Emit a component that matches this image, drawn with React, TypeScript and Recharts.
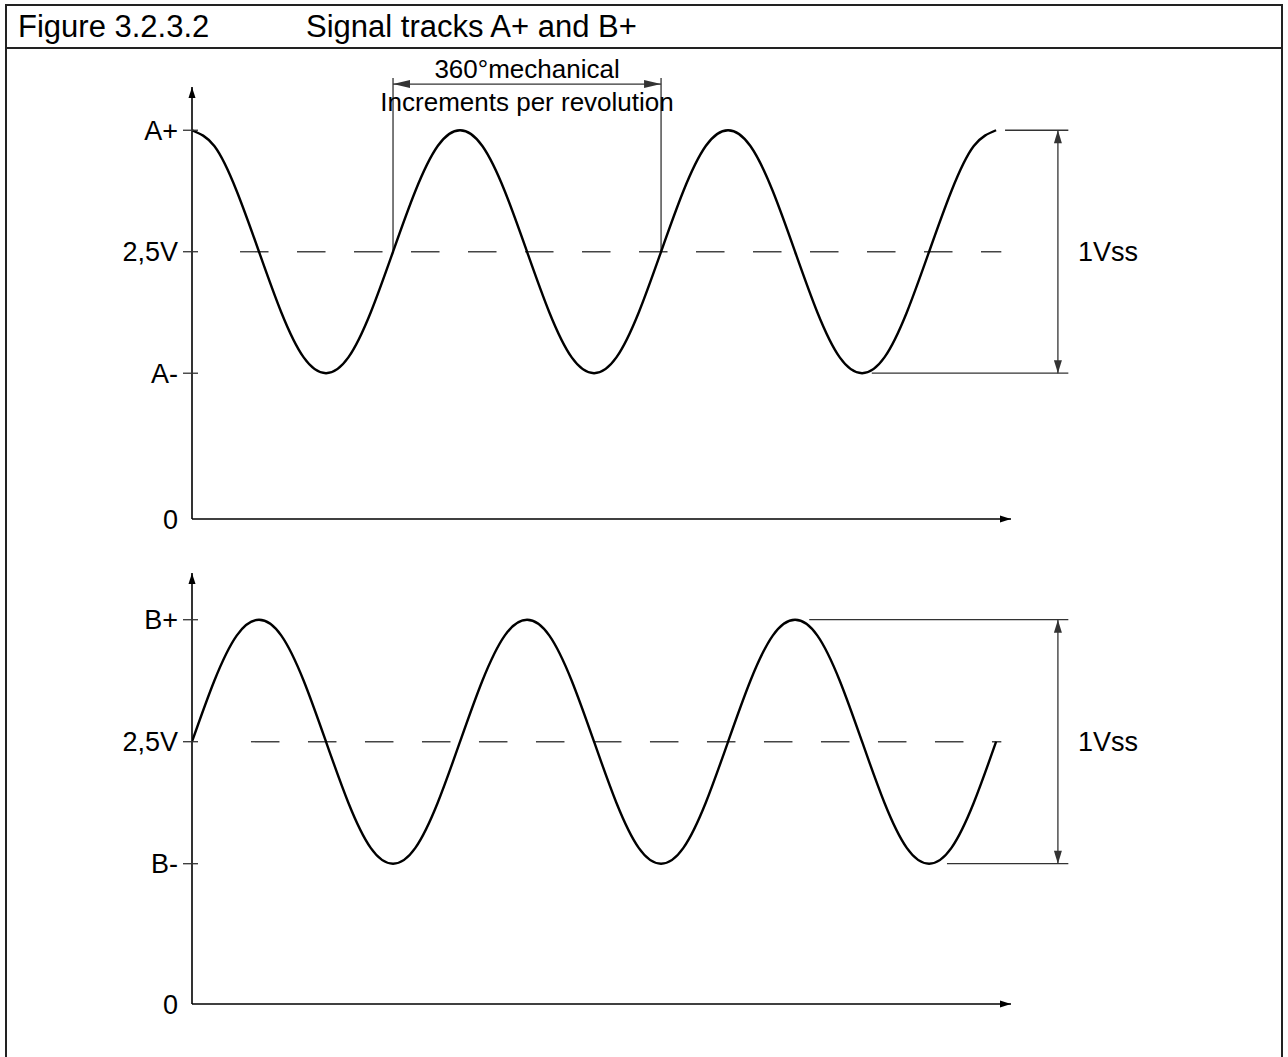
import React from "react";
import { LineChart, Line, XAxis, YAxis, ReferenceLine } from "recharts";

// x positions in electrical degrees (3 periods), sampled every 30°
const DEG = [
  0, 30, 60, 90, 120, 150, 180, 210, 240, 270, 300, 330, 360, 390, 420, 450, 480, 510, 540,
  570, 600, 630, 660, 690, 720, 750, 780, 810, 840, 870, 900, 930, 960, 990, 1020, 1050, 1080,
];

// track A+ starts at its maximum
const TRACK_A = [
  3.2, 3.07, 2.7, 2.2, 1.7, 1.33, 1.2, 1.33, 1.7, 2.2, 2.7, 3.07,
  3.2, 3.07, 2.7, 2.2, 1.7, 1.33, 1.2, 1.33, 1.7, 2.2, 2.7, 3.07,
  3.2, 3.07, 2.7, 2.2, 1.7, 1.33, 1.2, 1.33, 1.7, 2.2, 2.7, 3.07,
  3.2,
];

// track B+ starts at 2,5V rising (90° behind A+)
const TRACK_B = [
  2.15, 2.65, 3.02, 3.15, 3.02, 2.65, 2.15, 1.65, 1.28, 1.15, 1.28, 1.65,
  2.15, 2.65, 3.02, 3.15, 3.02, 2.65, 2.15, 1.65, 1.28, 1.15, 1.28, 1.65,
  2.15, 2.65, 3.02, 3.15, 3.02, 2.65, 2.15, 1.65, 1.28, 1.15, 1.28, 1.65,
  2.15,
];

const LEVELS_A = [0, 1.2, 2.2, 3.2];
const LABELS_A = ["0", "A-", "2,5V", "A+"];
const LEVELS_B = [0, 1.15, 2.15, 3.15];
const LABELS_B = ["0", "B-", "2,5V", "B+"];

const X_MAX = 1100;
const Y_MAX_A = 3.556;
const Y_MAX_B = 3.533;

const FONT = "'Liberation Sans', Arial, Helvetica, sans-serif";
const DIM = "#333";

const dataA = DEG.map((d, i) => ({ deg: d, v: TRACK_A[i] }));
const dataB = DEG.map((d, i) => ({ deg: d, v: TRACK_B[i] }));

type ArrowOpts = { start?: boolean; end?: boolean; head?: number; half?: number; color?: string; width?: number; dash?: string };

function arrowShape(o: ArrowOpts) {
  const color = o.color ?? "#000";
  const head = o.head ?? 11;
  const half = o.half ?? 3.5;
  return (p: any) => {
    const { x1, y1, x2, y2 } = p;
    const dx = x2 - x1;
    const dy = y2 - y1;
    const len = Math.hypot(dx, dy) || 1;
    const ux = dx / len;
    const uy = dy / len;
    const tri = (tx: number, ty: number, sx: number, sy: number) => {
      const bx = tx - sx * head;
      const by = ty - sy * head;
      return `${tx},${ty} ${bx - sy * half},${by + sx * half} ${bx + sy * half},${by - sx * half}`;
    };
    return (
      <g>
        <line x1={x1} y1={y1} x2={x2} y2={y2} stroke={color} strokeWidth={o.width ?? 1.3} strokeDasharray={o.dash} />
        {o.end && <polygon points={tri(x2, y2, ux, uy)} fill={color} />}
        {o.start && <polygon points={tri(x1, y1, -ux, -uy)} fill={color} />}
      </g>
    );
  };
}

function levelTick(levels: number[], labels: string[]) {
  return (p: any) => {
    const { x, y, payload } = p;
    const idx = levels.indexOf(payload.value);
    const label = labels[idx] ?? "";
    return (
      <g>
        {payload.value !== 0 && <line x1={x - 9} x2={x + 6} y1={y} y2={y} stroke={DIM} strokeWidth={1.3} />}
        <text x={x - 14} y={y} dy="0.36em" textAnchor="end" fontSize={27} fill="#000" fontFamily={FONT}>
          {label}
        </text>
      </g>
    );
  };
}

const vssLabel = (p: any) => {
  const vb = p.viewBox || {};
  return (
    <text x={vb.x + 20} y={vb.y + vb.height / 2} dy="0.36em" fontSize={27} fill="#000" fontFamily={FONT}>
      1Vss
    </text>
  );
};

const periodLabel = (p: any) => {
  const vb = p.viewBox || {};
  const cx = vb.x + vb.width / 2;
  return (
    <g fontFamily={FONT} fontSize={26} fill="#000" textAnchor="middle">
      <text x={cx} y={vb.y - 6}>360°mechanical</text>
      <text x={cx} y={vb.y + 27}>Increments per revolution</text>
    </g>
  );
};

export default function App() {
  return (
    <div style={{ position: "absolute", left: 0, top: 0, width: 1288, height: 1057, background: "#fff", overflow: "hidden", fontFamily: FONT }}>
      {/* frame and title row */}
      <div style={{ position: "absolute", left: 5, top: 4, width: 1274, height: 1100, border: "2px solid #222" }} />
      <div style={{ position: "absolute", left: 5, top: 47, width: 1277, height: 0, borderTop: "2px solid #222" }} />
      <svg style={{ position: "absolute", left: 0, top: 0 }} width={1288} height={48}>
        <text x={18} y={37} fontSize={31} fontFamily={FONT} fill="#000">Figure 3.2.3.2</text>
        <text x={306} y={37} fontSize={31} fontFamily={FONT} fill="#000">Signal tracks A+ and B+</text>
      </svg>

      {/* track A */}
      <div style={{ position: "absolute", left: 0, top: 0 }}>
        <LineChart width={1288} height={540} data={dataA} margin={{ top: 87, right: 277, bottom: 21, left: 0 }}>
          <XAxis dataKey="deg" type="number" domain={[0, X_MAX]} allowDataOverflow hide />
          <YAxis
            type="number"
            domain={[0, Y_MAX_A]}
            allowDataOverflow
            ticks={LEVELS_A}
            interval={0}
            width={192}
            axisLine={false}
            tickLine={false}
            tickSize={0}
            tickMargin={0}
            tick={levelTick(LEVELS_A, LABELS_A)}
          />
          <ReferenceLine segment={[{ x: 64.5, y: 2.2 }, { x: 1087, y: 2.2 }]} ifOverflow="visible" shape={arrowShape({ color: "#444", width: 1.4, dash: "28.5 28.5" })} />
          <ReferenceLine segment={[{ x: 0, y: 0 }, { x: 0, y: Y_MAX_A }]} ifOverflow="visible" shape={arrowShape({ end: true, width: 1.6 })} />
          <ReferenceLine segment={[{ x: 0, y: 0 }, { x: X_MAX, y: 0 }]} ifOverflow="visible" shape={arrowShape({ end: true, width: 1.6 })} />
          <ReferenceLine segment={[{ x: 270, y: 2.2 }, { x: 270, y: 3.63 }]} ifOverflow="visible" shape={arrowShape({ color: DIM })} />
          <ReferenceLine segment={[{ x: 630, y: 2.2 }, { x: 630, y: 3.63 }]} ifOverflow="visible" shape={arrowShape({ color: DIM })} />
          <ReferenceLine
            segment={[{ x: 270, y: 3.58 }, { x: 630, y: 3.58 }]}
            ifOverflow="visible"
            shape={arrowShape({ start: true, end: true, head: 17, half: 4, color: DIM })}
            label={periodLabel}
          />
          <ReferenceLine segment={[{ x: 1092, y: 3.2 }, { x: 1177, y: 3.2 }]} ifOverflow="visible" shape={arrowShape({ color: DIM })} />
          <ReferenceLine segment={[{ x: 913, y: 1.2 }, { x: 1177, y: 1.2 }]} ifOverflow="visible" shape={arrowShape({ color: DIM })} />
          <ReferenceLine
            segment={[{ x: 1163, y: 1.2 }, { x: 1163, y: 3.2 }]}
            ifOverflow="visible"
            shape={arrowShape({ start: true, end: true, head: 13, half: 4, color: DIM })}
            label={vssLabel}
          />
          <Line type="natural" dataKey="v" stroke="#000" strokeWidth={2.4} dot={false} activeDot={false} isAnimationActive={false} />
        </LineChart>
      </div>

      {/* track B */}
      <div style={{ position: "absolute", left: 0, top: 540 }}>
        <LineChart width={1288} height={517} data={dataB} margin={{ top: 33, right: 277, bottom: 53, left: 0 }}>
          <XAxis dataKey="deg" type="number" domain={[0, X_MAX]} allowDataOverflow hide />
          <YAxis
            type="number"
            domain={[0, Y_MAX_B]}
            allowDataOverflow
            ticks={LEVELS_B}
            interval={0}
            width={192}
            axisLine={false}
            tickLine={false}
            tickSize={0}
            tickMargin={0}
            tick={levelTick(LEVELS_B, LABELS_B)}
          />
          <ReferenceLine segment={[{ x: 79.2, y: 2.15 }, { x: 1087, y: 2.15 }]} ifOverflow="visible" shape={arrowShape({ color: "#444", width: 1.4, dash: "28.5 28.5" })} />
          <ReferenceLine segment={[{ x: 0, y: 0 }, { x: 0, y: Y_MAX_B }]} ifOverflow="visible" shape={arrowShape({ end: true, width: 1.6 })} />
          <ReferenceLine segment={[{ x: 0, y: 0 }, { x: X_MAX, y: 0 }]} ifOverflow="visible" shape={arrowShape({ end: true, width: 1.6 })} />
          <ReferenceLine segment={[{ x: 829, y: 3.15 }, { x: 1177, y: 3.15 }]} ifOverflow="visible" shape={arrowShape({ color: DIM })} />
          <ReferenceLine segment={[{ x: 1014, y: 1.15 }, { x: 1177, y: 1.15 }]} ifOverflow="visible" shape={arrowShape({ color: DIM })} />
          <ReferenceLine
            segment={[{ x: 1163, y: 1.15 }, { x: 1163, y: 3.15 }]}
            ifOverflow="visible"
            shape={arrowShape({ start: true, end: true, head: 13, half: 4, color: DIM })}
            label={vssLabel}
          />
          <Line type="natural" dataKey="v" stroke="#000" strokeWidth={2.4} dot={false} activeDot={false} isAnimationActive={false} />
        </LineChart>
      </div>
    </div>
  );
}
